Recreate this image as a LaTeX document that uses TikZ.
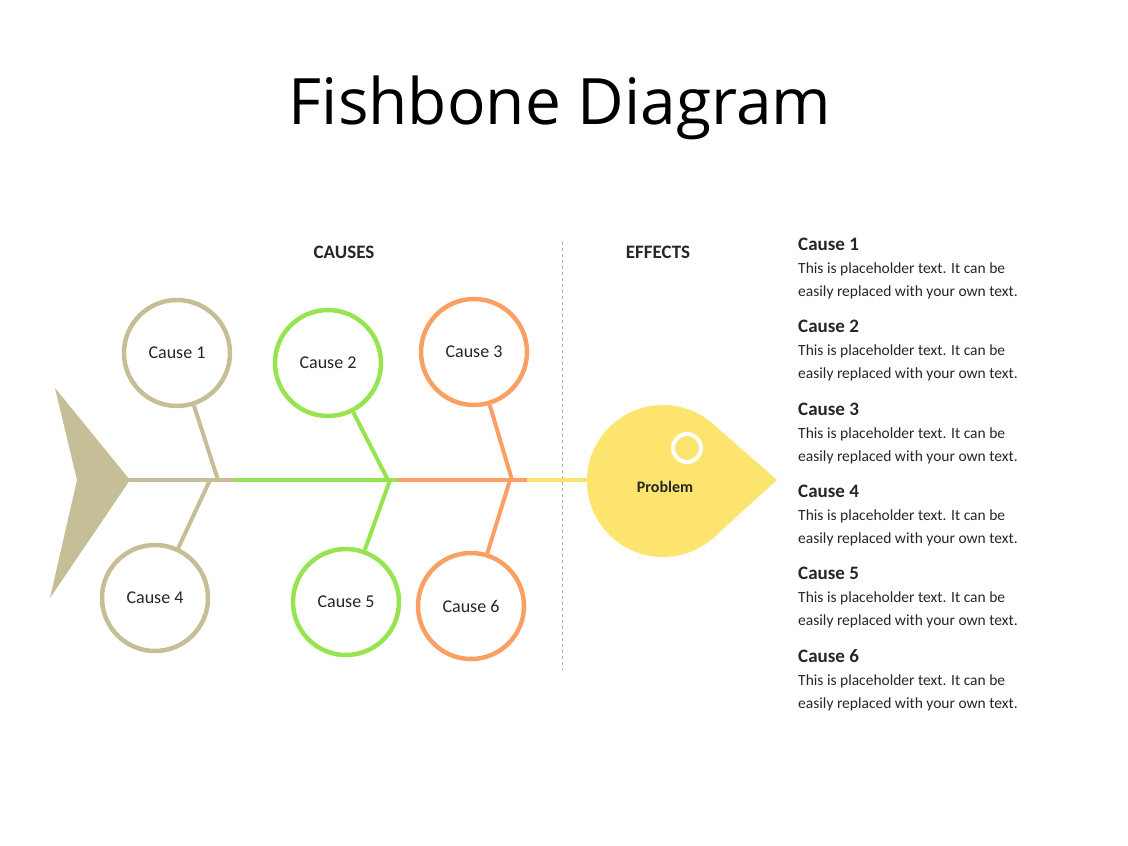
\documentclass[tikz,border=0pt]{standalone}
\usepackage{fontspec}
\setmainfont{Carlito}
\newfontfamily\titlefont{Open Sans}
\definecolor{tan}{RGB}{198,190,150}
\definecolor{grn}{RGB}{150,228,80}
\definecolor{org}{RGB}{250,160,100}
\definecolor{yel}{RGB}{252,228,110}
\definecolor{txt}{RGB}{38,38,38}
\newcommand\dtitlefont{\bfseries\fontsize{19}{22}\selectfont}
\tikzset{
 cause/.style={circle,draw=#1,line width=4.5pt,minimum size=106pt,fill=white,text=txt,font=\fontsize{18}{20}\selectfont,inner sep=0pt},
 bone/.style={draw=#1,line width=4pt},
 hdr/.style={font=\bfseries\fontsize{19}{22}\selectfont,text=txt},
 desc/.style={anchor=north west,align=left,text=txt,font=\fontsize{15.5}{23}\selectfont,inner sep=0pt},
}
\begin{document}
\begin{tikzpicture}[x=1pt,y=-1pt]
\useasboundingbox (0,0) rectangle (1128,846);
\node[font=\titlefont\fontsize{64}{70}\selectfont] (title) at (560,108) {Fishbone Diagram};
\node[hdr] (causes) at (344,252) {CAUSES};
\node[hdr] (effects) at (658,252) {EFFECTS};
\draw[gray!60,dashed] (562,242) -- (562,670);
% tail
\fill[tan] (55,388) -- (130,480) -- (50,598) -- (77,480) -- cycle;
% spine
\coordinate (s0) at (126,480);
\coordinate (s1) at (235,480);
\coordinate (s2) at (398,480);
\coordinate (s3) at (527,480);
\coordinate (s4) at (600,480);
\draw[bone=tan] (s0) -- (s1);
\draw[bone=grn] (s1) -- (s2);
\draw[bone=org] (s2) -- (s3);
\draw[bone=yel] (s3) -- (s4);
% bones
\coordinate (b1) at (218,480); \coordinate (b4) at (210,480);
\coordinate (b2) at (388,480); \coordinate (b5) at (390,480);
\coordinate (b3) at (512,480); \coordinate (b6) at (510,480);
\node[cause=tan] (c1) at (177,353) {Cause 1};
\node[cause=tan] (c4) at (155,598) {Cause 4};
\node[cause=grn] (c2) at (328,363) {Cause 2};
\node[cause=grn] (c5) at (346,602) {Cause 5};
\node[cause=org] (c3) at (474,352) {Cause 3};
\node[cause=org] (c6) at (471,606) {Cause 6};
\draw[bone=tan] (c1) -- (b1);
\draw[bone=tan] (c4) -- (b4);
\draw[bone=grn] (c2) -- (b2);
\draw[bone=grn] (c5) -- (b5);
\draw[bone=org] (c3) -- (b3);
\draw[bone=org] (c6) -- (b6);
% problem
\fill[yel] (663,481) circle (76);
\fill[yel] (777,480) -- (713,424) -- (713,538) -- cycle;
\draw[white,line width=4pt] (687,448) circle (14);
\node[font=\bfseries\fontsize{16}{18}\selectfont,text=txt] (prob) at (665,487) {Problem};
% descriptions
\foreach \i/\y in {1/238,2/320,3/403,4/485,5/567,6/649}{
 \node[desc] (d\i) at (798,\y) {{\dtitlefont Cause \i}\\This is placeholder text. It can be\\easily replaced with your own text.};
}
\end{tikzpicture}
\end{document}
